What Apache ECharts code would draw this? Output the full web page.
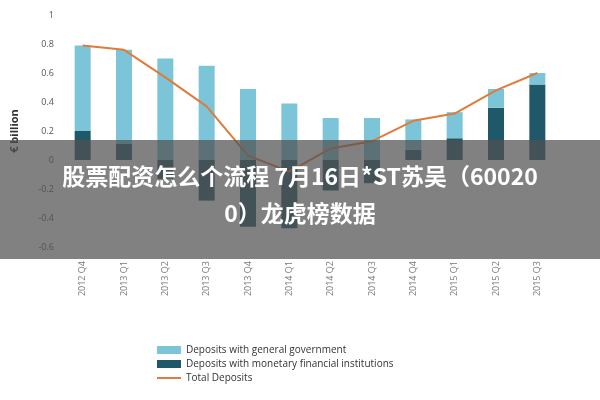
<!DOCTYPE html>
<html>
<head>
<meta charset="utf-8">
<script src="https://cdn.jsdelivr.net/npm/echarts@6/dist/echarts.min.js"></script>
<style>html,body{margin:0;padding:0;background:#fff}#chart{width:600px;height:400px}</style>
</head>
<body>
<div id="chart"></div>
<script>
// quarters on the x axis
const quarters = ['2012 Q4', '2013 Q1', '2013 Q2', '2013 Q3', '2013 Q4', '2014 Q1',
    '2014 Q2', '2014 Q3', '2014 Q4', '2015 Q1', '2015 Q2', '2015 Q3'];
// deposits with monetary financial institutions
const mfiDeposits = [0.20, 0.11, -0.13, -0.28, -0.46, -0.47, -0.21, -0.16, 0.07, 0.15, 0.36, 0.52];
// deposits with general government (stacked on top)
const govDeposits = [0.59, 0.65, 0.70, 0.65, 0.49, 0.39, 0.29, 0.29, 0.21, 0.18, 0.13, 0.08];
// total deposits
const totalDeposits = [0.79, 0.76, 0.57, 0.37, 0.03, -0.08, 0.08, 0.13, 0.27, 0.32, 0.48, 0.60];
const yTicks = [-0.6, 1];

let myChart = echarts.init(document.getElementById('chart'));

let option = {
    animation: false,
    textStyle: {fontFamily: 'Open Sans'},
    grid: {left: 62, right: 42, top: 15, bottom: 153},
    legend: {
        orient: 'vertical',
        left: 152,
        top: 340,
        itemWidth: 24,
        itemHeight: 8,
        itemGap: 4,
        textStyle: {fontSize: 10, color: '#333'},
        data: [
            {name: 'Deposits with general government', icon: 'rect'},
            {name: 'Deposits with monetary financial institutions', icon: 'rect'},
            {name: 'Total Deposits', icon: 'path://M0,4L24,4L24,6L0,6Z'}
        ]
    },
    xAxis: {
        type: 'category',
        data: quarters,
        axisLine: {show: false},
        axisTick: {show: false},
        axisLabel: {rotate: 90, color: '#777', fontSize: 9, margin: 14}
    },
    yAxis: {
        type: 'value',
        min: yTicks[0],
        max: yTicks[1],
        interval: 0.2,
        name: '€ billion',
        nameLocation: 'middle',
        nameGap: 42,
        nameTextStyle: {fontWeight: 'bold', fontSize: 11, color: '#333'},
        splitLine: {show: false},
        axisLabel: {color: '#555', fontSize: 9, formatter: v => Math.round(v * 10) / 10}
    },
    series: [
        {
            name: 'Deposits with monetary financial institutions',
            type: 'bar',
            stack: 'dep',
            barWidth: 16,
            color: '#1f5868',
            data: mfiDeposits
        },
        {
            name: 'Deposits with general government',
            type: 'bar',
            stack: 'dep',
            barWidth: 16,
            color: '#7cc5d8',
            data: govDeposits
        },
        {
            name: 'Total Deposits',
            type: 'line',
            color: '#e07b39',
            symbol: 'none',
            lineStyle: {width: 2},
            data: totalDeposits
        }
    ],
    graphic: [
        {type: 'rect', left: 0, top: 140, shape: {width: 600, height: 119}, style: {fill: 'rgba(80,80,80,0.72)'}, z: 100},
        {type: 'text', left: 'center', top: 165, z: 101,
            style: {text: '股票配资怎么个流程 7月16日*ST苏吴（60020', fill: '#fff', font: 'bold 23px "Noto Sans CJK SC"'}},
        {type: 'text', left: 'center', top: 202, z: 101,
            style: {text: '0）龙虎榜数据', fill: '#fff', font: 'bold 23px "Noto Sans CJK SC"'}}
    ]
};

myChart.setOption(option);
</script>
</body>
</html>
